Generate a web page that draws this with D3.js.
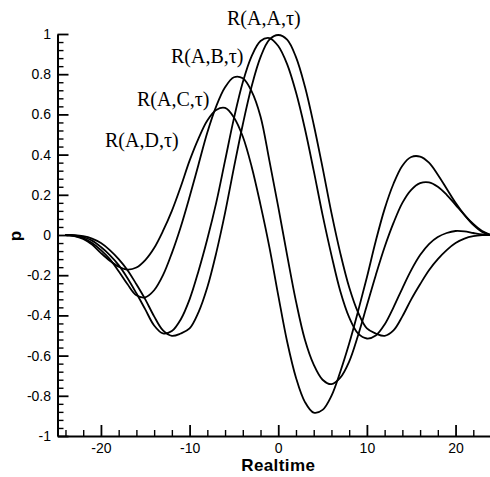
<!DOCTYPE html>
<html>
<head>
<meta charset="utf-8">
<script src="https://cdn.jsdelivr.net/npm/d3@7"></script>
<style>
  body { margin: 0; background: #fff; }
  svg { display: block; }
</style>
</head>
<body>
<svg id="chart" width="490" height="477"></svg>
<script>
// Lag axis (Realtime) sample points
const tau = [-24,-23,-22,-21,-20,-19,-18,-17,-16,-15,-14,-13,-12,-11,-10,-9,-8,-7,-6,-5,-4,-3,-2,-1,
             0,1,2,3,4,5,6,7,8,9,10,11,12,13,14,15,16,17,18,19,20,21,22,23,24];

// Correlation coefficient p for each pair
const rAA = [0,-0.001,-0.006,-0.018,-0.04,-0.075,-0.12,-0.175,-0.245,-0.32,-0.405,-0.475,-0.502,-0.49,-0.465,-0.385,-0.26,-0.09,0.11,0.335,0.55,0.74,0.885,0.972,
             0.995,0.972,0.885,0.74,0.55,0.335,0.11,-0.09,-0.26,-0.385,-0.465,-0.49,-0.502,-0.475,-0.405,-0.32,-0.245,-0.175,-0.12,-0.075,-0.04,-0.018,-0.006,-0.001,0];
const rAB = [0,-0.002,-0.01,-0.028,-0.06,-0.1,-0.15,-0.215,-0.29,-0.37,-0.45,-0.49,-0.478,-0.42,-0.32,-0.18,-0.02,0.16,0.37,0.58,0.76,0.89,0.965,0.98,
             0.94,0.85,0.71,0.53,0.32,0.1,-0.1,-0.28,-0.41,-0.49,-0.515,-0.5,-0.445,-0.36,-0.265,-0.175,-0.1,-0.045,-0.01,0.01,0.02,0.018,0.01,0.003,0];
const rAC = [0,-0.004,-0.015,-0.04,-0.075,-0.12,-0.18,-0.245,-0.3,-0.31,-0.275,-0.2,-0.09,0.04,0.19,0.35,0.51,0.64,0.735,0.785,0.78,0.715,0.59,0.37,
             0.14,-0.1,-0.33,-0.52,-0.645,-0.72,-0.742,-0.71,-0.63,-0.5,-0.35,-0.2,-0.06,0.06,0.16,0.225,0.258,0.262,0.24,0.2,0.15,0.1,0.055,0.02,0];
const rAD = [0,-0.005,-0.02,-0.048,-0.09,-0.128,-0.158,-0.172,-0.162,-0.125,-0.065,0.02,0.12,0.24,0.37,0.48,0.57,0.622,0.632,0.585,0.49,0.34,0.15,-0.06,
             -0.3,-0.53,-0.71,-0.83,-0.884,-0.87,-0.8,-0.68,-0.54,-0.38,-0.21,-0.03,0.13,0.255,0.345,0.388,0.39,0.36,0.3,0.23,0.16,0.1,0.05,0.015,0];

const seriesNames = ["R(A,A,\u03C4)", "R(A,B,\u03C4)", "R(A,C,\u03C4)", "R(A,D,\u03C4)"];
const seriesValues = [rAA, rAB, rAC, rAD];

// Axis ticks and labels
const xTickValues = [-20, -10, 0, 10, 20];
const xTickLabels = ["-20", "-10", "0", "10", "20"];
const yTickValues = [1, 0.8, 0.6, 0.4, 0.2, 0, -0.2, -0.4, -0.6, -0.8, -1];
const yTickLabels = ["1", "0.8", "0.6", "0.4", "0.2", "0", "-0.2", "-0.4", "-0.6", "-0.8", "-1"];
const xTitle = "Realtime";
const yTitle = "p";

// ---- layout ----
const svg = d3.select("#chart");
const x = d3.scaleLinear().domain([-24.9, 24.9]).range([57.5, 499]);
const y = d3.scaleLinear().domain([-1, 1]).range([436, 34]);

const xMinor = d3.range(-12, 13).map(i => i * 2).filter(v => !xTickValues.includes(v));
const yMinor = d3.range(-25, 26).map(i => +(i * 0.04).toFixed(2)).filter(v => !yTickValues.includes(v));

const font = "'Liberation Sans', Arial, sans-serif";

// minor ticks (inward)
svg.append("g")
  .attr("transform", `translate(0,${y(-1)})`)
  .call(d3.axisBottom(x).tickValues(xMinor).tickSize(-6).tickFormat(""))
  .call(g => g.select(".domain").remove())
  .call(g => g.selectAll("line").attr("stroke-width", 1.4));
svg.append("g")
  .attr("transform", `translate(${x.range()[0]},0)`)
  .call(d3.axisLeft(y).tickValues(yMinor).tickSize(-6).tickFormat(""))
  .call(g => g.select(".domain").remove())
  .call(g => g.selectAll("line").attr("stroke-width", 1.4));

// major ticks with labels
const xAxis = svg.append("g")
  .attr("transform", `translate(0,${y(-1)})`)
  .call(d3.axisBottom(x).tickValues(xTickValues).tickSize(-11).tickSizeOuter(0).tickPadding(7)
        .tickFormat((d, i) => xTickLabels[i]));
const yAxis = svg.append("g")
  .attr("transform", `translate(${x.range()[0]},0)`)
  .call(d3.axisLeft(y).tickValues(yTickValues).tickSize(-11).tickSizeOuter(0).tickPadding(6.5)
        .tickFormat((d, i) => yTickLabels[i]));

[xAxis, yAxis].forEach(g => {
  g.select(".domain").attr("stroke", "#000").attr("stroke-width", 2);
  g.selectAll("line").attr("stroke", "#000").attr("stroke-width", 1.8);
  g.selectAll("text").attr("fill", "#000").style("font-family", font).style("font-size", "14px");
});

// axis titles
svg.append("text")
  .attr("x", x(0)).attr("y", 470.5)
  .attr("text-anchor", "middle")
  .style("font-family", font).style("font-size", "17px").style("font-weight", "bold")
  .style("letter-spacing", "0.4px")
  .text(xTitle);
svg.append("text")
  .attr("transform", "translate(21,236) rotate(-90)")
  .attr("text-anchor", "middle")
  .style("font-family", font).style("font-size", "17px").style("font-weight", "bold")
  .text(yTitle);

// correlation curves
const line = d3.line()
  .x((d, i) => x(tau[i]))
  .y(d => y(d))
  .curve(d3.curveCatmullRom.alpha(0.5));

svg.append("g")
  .selectAll("path")
  .data(seriesValues)
  .join("path")
  .attr("d", d => line(d))
  .attr("fill", "none")
  .attr("stroke", "#000")
  .attr("stroke-width", 1.8)
  .attr("stroke-linejoin", "round");

// curve labels
const labelPos = [[227, 25], [171, 63], [137, 106], [105, 147]];
svg.append("g")
  .selectAll("text")
  .data(seriesNames)
  .join("text")
  .attr("x", (d, i) => labelPos[i][0])
  .attr("y", (d, i) => labelPos[i][1])
  .style("font-family", "'Liberation Serif', 'Times New Roman', serif")
  .style("font-size", "20px")
  .attr("fill", "#000")
  .text(d => d);
</script>
</body>
</html>
